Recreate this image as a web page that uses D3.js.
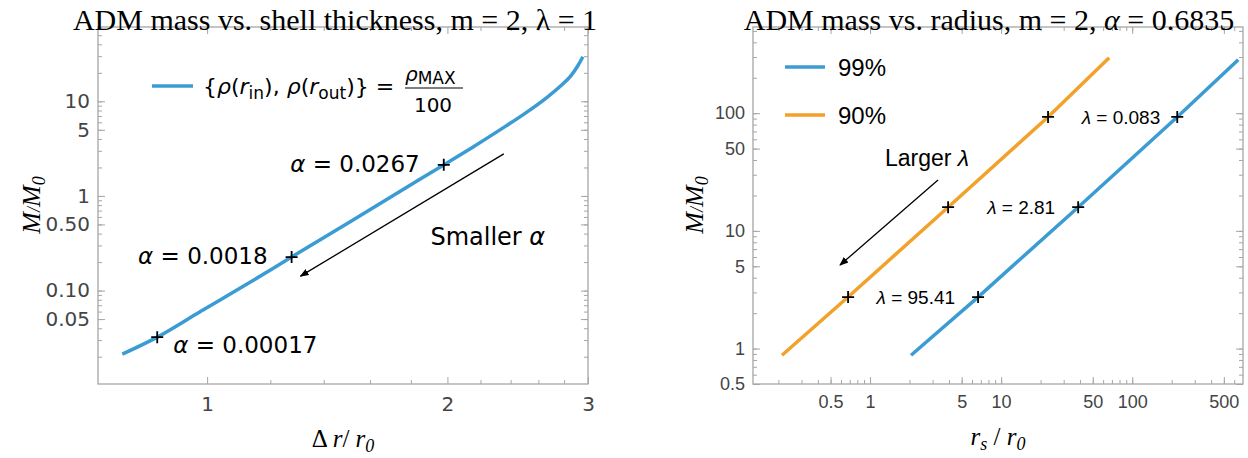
<!DOCTYPE html>
<html>
<head>
<meta charset="utf-8">
<script src="https://cdnjs.cloudflare.com/ajax/libs/d3/7.8.5/d3.min.js"></script>
<style>
  body { margin: 0; background: #fff; }
  svg { display: block; }
</style>
</head>
<body>
<svg id="chart" width="1248" height="458"></svg>
<script>
// left panel: ADM mass vs shell thickness
var shellDr = [0.783, 0.8663, 0.9808, 1.1331, 1.2756, 1.5126, 1.7475, 1.9786, 2.1391, 2.3325, 2.5073, 2.6562, 2.7738, 2.8551, 2.9134, 2.9559];
var shellM = [0.02128, 0.03221, 0.05995, 0.1230, 0.2262, 0.5373, 1.1295, 2.128, 3.181, 5.054, 7.555, 10.76, 14.59, 18.61, 23.75, 29.58];
var alphaDr = [0.866, 1.276, 1.979];
var alphaM = [0.0322, 0.226, 2.13];
var alphaLabels = ["0.00017", "0.0018", "0.0267"];
var leftXTicks = [1, 2, 3];
var leftXMinor = [1.2, 1.4, 1.6, 1.8, 2.2, 2.4, 2.6, 2.8];
var leftYTicks = [0.05, 0.1, 0.5, 1, 5, 10];
var leftYLabels = ["0.05", "0.10", "0.50", "1", "5", "10"];

// right panel: ADM mass vs radius
var rs99 = [2.055, 6.67, 38.7, 220.6, 644];
var m99 = [0.877, 2.74, 15.9, 92.9, 284];
var rs90 = [0.213, 0.68, 3.94, 22.8, 66.7];
var m90 = [0.877, 2.74, 15.9, 92.9, 296];
var lambdaLabels = ["95.41", "2.81", "0.083"];
var rightXTicks = [0.5, 1, 5, 10, 50, 100, 500];
var rightYTicks = [0.5, 1, 5, 10, 50, 100];
var seriesNames = ["99%", "90%"];

var blue = "#3b9bd3", orange = "#f2a12b", frameCol = "#a6a6a6", tickTxt = "#444";

var svg = d3.select("#chart");
svg.append("rect").attr("width", 1248).attr("height", 458).attr("fill", "#fff");

function logMinors(domain) {
    var out = [];
    for (var e = -3; e <= 3; e++) {
        for (var k = 1; k <= 9; k++) {
            var v = k * Math.pow(10, e);
            if (v > domain[0] && v < domain[1]) out.push(v);
        }
    }
    return out;
}

function drawFrame(box, x, y, xMaj, xMin, xFmt, yMaj, yMin, yFmt, font, fsize) {
    var g = svg.append("g");
    // minor ticks, all four sides
    [[d3.axisBottom(x), "0," + box.y1, xMin], [d3.axisTop(x), "0," + box.y0, xMin],
     [d3.axisLeft(y), box.x0 + ",0", yMin], [d3.axisRight(y), box.x1 + ",0", yMin]].forEach(function (a) {
        g.append("g").attr("transform", "translate(" + a[1] + ")")
            .call(a[0].tickValues(a[2]).tickSize(-4).tickFormat(""));
    });
    [[d3.axisTop(x), "0," + box.y0, xMaj], [d3.axisRight(y), box.x1 + ",0", yMaj]].forEach(function (a) {
        g.append("g").attr("transform", "translate(" + a[1] + ")")
            .call(a[0].tickValues(a[2]).tickSize(-7).tickFormat(""));
    });
    g.append("g").attr("transform", "translate(0," + box.y1 + ")")
        .call(d3.axisBottom(x).tickValues(xMaj).tickSize(-7).tickPadding(box.xpad).tickFormat(xFmt));
    g.append("g").attr("transform", "translate(" + box.x0 + ",0)")
        .call(d3.axisLeft(y).tickValues(yMaj).tickSize(-7).tickPadding(8).tickFormat(yFmt));
    g.selectAll(".domain").remove();
    g.selectAll(".tick line").attr("stroke", frameCol);
    g.selectAll(".tick text").attr("fill", tickTxt).style("font-family", font).style("font-size", fsize + "px");
    g.append("rect").attr("x", box.x0).attr("y", box.y0)
        .attr("width", box.x1 - box.x0).attr("height", box.y1 - box.y0)
        .attr("fill", "none").attr("stroke", frameCol).attr("stroke-width", 1.3);
}

var defs = svg.append("defs");
defs.append("marker").attr("id", "arr").attr("viewBox", "0 0 10 10")
    .attr("refX", 9).attr("refY", 5).attr("markerWidth", 9).attr("markerHeight", 9)
    .attr("markerUnits", "userSpaceOnUse").attr("orient", "auto")
    .append("path").attr("d", "M0,1 L10,5 L0,9 Z").attr("fill", "#000");

function cross(g, px, py) {
    g.append("path").attr("d", "M" + (px - 6) + "," + py + "h12M" + px + "," + (py - 6) + "v12")
        .attr("stroke", "#000").attr("stroke-width", 1.8);
}

// ---------- left panel ----------
var LB = {x0: 98, x1: 588, y0: 27, y1: 384, xpad: 13};
var xL = d3.scaleLog().domain([0.73, 3.0]).range([LB.x0, LB.x1]);
var yL = d3.scaleLog().domain([0.0103, 61]).range([LB.y1, LB.y0]);

drawFrame(LB, xL, yL, leftXTicks, leftXMinor, function (d) { return d; },
    leftYTicks, logMinors(yL.domain()), function (d, i) { return leftYLabels[i]; }, "DejaVu Sans", 20);

var gl = svg.append("g");
gl.append("path")
    .datum(shellDr.map(function (d, i) { return [d, shellM[i]]; }))
    .attr("d", d3.line().curve(d3.curveMonotoneX).x(function (d) { return xL(d[0]); }).y(function (d) { return yL(d[1]); }))
    .attr("fill", "none").attr("stroke", blue).attr("stroke-width", 3.5);

alphaDr.forEach(function (d, i) {
    var px = xL(d), py = yL(alphaM[i]);
    cross(gl, px, py);
    var t = gl.append("text").style("font-family", "DejaVu Sans").style("font-size", "23px")
        .attr("dominant-baseline", "central");
    if (i === 0) t.attr("x", px + 16).attr("y", py + 8).attr("text-anchor", "start");
    else t.attr("x", px - 24).attr("y", py - 1).attr("text-anchor", "end");
    t.append("tspan").style("font-style", "italic").text("α");
    t.append("tspan").text(" = " + alphaLabels[i]);
});

gl.append("line")
    .attr("x1", xL(2.353)).attr("y1", yL(2.78)).attr("x2", xL(1.309)).attr("y2", yL(0.142))
    .attr("stroke", "#000").attr("stroke-width", 1.3).attr("marker-end", "url(#arr)");
var ts = gl.append("text").attr("x", xL(2.247)).attr("y", yL(0.368)).attr("text-anchor", "middle")
    .attr("dominant-baseline", "central").style("font-family", "DejaVu Sans").style("font-size", "24px");
ts.append("tspan").text("Smaller ");
ts.append("tspan").style("font-style", "italic").text("α");

// left legend
var lg = svg.append("g").style("font-family", "DejaVu Sans").style("font-size", "22px");
lg.append("line").attr("x1", 152).attr("x2", 193).attr("y1", 86).attr("y2", 86)
    .attr("stroke", blue).attr("stroke-width", 3.5);
var lt = lg.append("text").attr("x", 203).attr("y", 94);
lt.append("tspan").text("{");
lt.append("tspan").style("font-style", "italic").text("ρ");
lt.append("tspan").text("(");
lt.append("tspan").style("font-style", "italic").text("r");
lt.append("tspan").attr("dy", 5).style("font-size", "17px").text("in");
lt.append("tspan").attr("dy", -5).text("), ");
lt.append("tspan").style("font-style", "italic").text("ρ");
lt.append("tspan").text("(");
lt.append("tspan").style("font-style", "italic").text("r");
lt.append("tspan").attr("dy", 5).style("font-size", "17px").text("out");
lt.append("tspan").attr("dy", -5).text(")} = ");
var fr = lg.append("text").attr("x", 405).attr("y", 81).style("font-size", "20px");
fr.append("tspan").style("font-style", "italic").text("ρ");
fr.append("tspan").attr("dy", 3).style("font-size", "17px").text("MAX");
lg.append("line").attr("x1", 405).attr("x2", 463).attr("y1", 88).attr("y2", 88).attr("stroke", "#000").attr("stroke-width", 1.2);
lg.append("text").attr("x", 433).attr("y", 112).attr("text-anchor", "middle").style("font-size", "20px").text("100");

// titles and axis labels
svg.append("text").attr("x", (LB.x0 + LB.x1) / 2 - 8).attr("y", 30).attr("text-anchor", "middle")
    .style("font-family", "Liberation Serif").style("font-size", "30px")
    .text("ADM mass vs. shell thickness, m = 2, λ = 1");
var xl = svg.append("text").attr("x", (LB.x0 + LB.x1) / 2).attr("y", 447).attr("text-anchor", "middle")
    .style("font-family", "Liberation Serif").style("font-size", "25px");
xl.append("tspan").text("Δ ");
xl.append("tspan").style("font-style", "italic").text("r");
xl.append("tspan").text("/ ");
xl.append("tspan").style("font-style", "italic").text("r");
xl.append("tspan").attr("dy", 5).style("font-size", "18px").style("font-style", "italic").text("0");

function yTitle(cx) {
    var t = svg.append("text").attr("transform", "translate(" + cx + ",205) rotate(-90)")
        .attr("text-anchor", "middle").style("font-family", "Liberation Serif")
        .style("font-size", "26px").style("font-style", "italic");
    t.append("tspan").text("M");
    t.append("tspan").style("font-size", "18px").text("/");
    t.append("tspan").text("M");
    t.append("tspan").attr("dy", 5).style("font-size", "18px").text("0");
}
yTitle(40);

// ---------- right panel ----------
var RB = {x0: 753, x1: 1243, y0: 27, y1: 384, xpad: 11};
var xR = d3.scaleLog().domain([0.128, 700]).range([RB.x0, RB.x1]);
var yR = d3.scaleLog().domain([0.5, 540]).range([RB.y1, RB.y0]);

drawFrame(RB, xR, yR, rightXTicks, logMinors(xR.domain()), function (d) { return d; },
    rightYTicks, logMinors(yR.domain()), function (d) { return d; }, "Liberation Sans", 18);

var gr = svg.append("g");
var lineR = d3.line().x(function (d) { return xR(d[0]); }).y(function (d) { return yR(d[1]); });
[[rs99, m99, blue], [rs90, m90, orange]].forEach(function (s) {
    gr.append("path").datum(s[0].map(function (d, i) { return [d, s[1][i]]; }))
        .attr("d", lineR).attr("fill", "none").attr("stroke", s[2]).attr("stroke-width", 3.5);
});
[rs99, rs90].forEach(function (xs, si) {
    var ms = si === 0 ? m99 : m90;
    for (var i = 1; i <= 3; i++) cross(gr, xR(xs[i]), yR(ms[i]));
});
rs99.slice(1, 4).forEach(function (d, i) {
    var t = gr.append("text").attr("x", xR(d) - (i === 2 ? 17 : 23)).attr("y", yR(m99[i + 1]))
        .attr("text-anchor", "end").attr("dominant-baseline", "central")
        .style("font-family", "Liberation Sans").style("font-size", "19px");
    t.append("tspan").style("font-style", "italic").text("λ");
    t.append("tspan").text(" = " + lambdaLabels[i]);
});

gr.append("line")
    .attr("x1", xR(3.30)).attr("y1", yR(27.1)).attr("x2", xR(0.590)).attr("y2", yR(5.12))
    .attr("stroke", "#000").attr("stroke-width", 1.3).attr("marker-end", "url(#arr)");
var tl = gr.append("text").attr("x", xR(2.72)).attr("y", yR(41.8)).attr("text-anchor", "middle")
    .attr("dominant-baseline", "central").style("font-family", "Liberation Sans").style("font-size", "23px");
tl.append("tspan").text("Larger ");
tl.append("tspan").style("font-style", "italic").text("λ");

// right legend
var rg = svg.append("g").style("font-family", "Liberation Sans").style("font-size", "24px");
[blue, orange].forEach(function (c, i) {
    var yy = 67 + i * 48;
    rg.append("line").attr("x1", 785).attr("x2", 825).attr("y1", yy).attr("y2", yy)
        .attr("stroke", c).attr("stroke-width", 3.5);
    rg.append("text").attr("x", 838).attr("y", yy).attr("dominant-baseline", "central").text(seriesNames[i]);
});

svg.append("text").attr("x", (RB.x0 + RB.x1) / 2 - 9).attr("y", 30).attr("text-anchor", "middle")
    .style("font-family", "Liberation Serif").style("font-size", "30px")
    .call(function (t) {
        t.append("tspan").text("ADM mass vs. radius, m = 2, ");
        t.append("tspan").style("font-style", "italic").text("α");
        t.append("tspan").text(" = 0.6835");
    });
var xr = svg.append("text").attr("x", (RB.x0 + RB.x1) / 2).attr("y", 445).attr("text-anchor", "middle")
    .style("font-family", "Liberation Serif").style("font-size", "25px").style("font-style", "italic");
xr.append("tspan").text("r");
xr.append("tspan").attr("dy", 5).style("font-size", "18px").text("s");
xr.append("tspan").attr("dy", -5).style("font-style", "normal").text(" / ");
xr.append("tspan").text("r");
xr.append("tspan").attr("dy", 5).style("font-size", "18px").text("0");
yTitle(703);
</script>
</body>
</html>
